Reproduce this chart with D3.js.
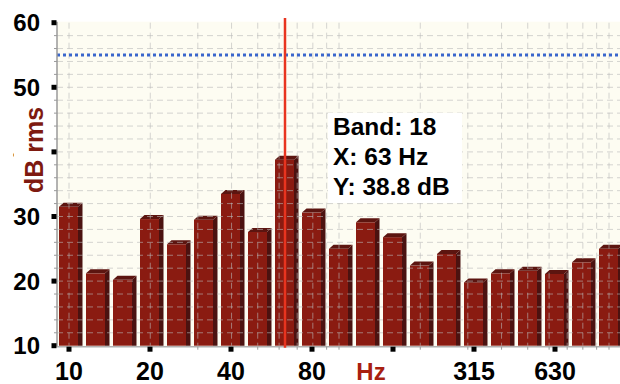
<html>
<head>
<script src="https://d3js.org/d3.v7.min.js"></script>
<style>
  body { margin: 0; background: white; }
  text { font-family: "Liberation Sans", Arial, Helvetica, sans-serif; font-weight: bold; }
</style>
</head>
<body>
<svg id="chart" width="620" height="384"></svg>
<script>
  // 1/3 octave bands, IEC band numbers 10..30 (10 Hz .. 1 kHz)
  const bands = [10,11,12,13,14,15,16,17,18,19,20,21,22,23,24,25,26,27,28,29,30];
  const levels = [31.5,21.2,20.2,29.6,25.7,29.5,33.5,27.6,38.8,30.6,25.0,29.1,26.8,22.4,24.2,19.8,21.2,21.6,21.1,22.9,25.0];
  const xTicks = [10,20,40,80,160,315,630];
  const xTickLabels = ["10","20","40","80","","315","630"];
  const yTicks = [10,20,30,40,50,60];
  const limit = 55;
  const cursorBand = 18;
  const cursorText = ["Band: 18","X: 63 Hz","Y: 38.8 dB"];

  const svg = d3.select("#chart");
  const left = 57, right = 620;

  const x = d3.scaleLog().domain([10,1000]).range([69,609]);
  const y = d3.scaleLinear().domain([10,60]).range([345.7,22.7]);
  const freq = n => Math.pow(10, n/10);

  // plot background
  svg.append("rect")
     .attr("x", left).attr("y", y(60)-1)
     .attr("width", right-left).attr("height", y(10)-y(60)+2)
     .attr("fill", "#fdfcf2");

  // bars (fake 3d)
  const bw = 19, dx = 4.5, dy = 4;
  const bars = svg.append("g").selectAll("g").data(bands).join("g");
  bars.append("rect")
      .attr("x", (d) => x(freq(d)) - 10)
      .attr("y", (d,i) => y(levels[i]))
      .attr("width", bw)
      .attr("height", (d,i) => y(10) - y(levels[i]))
      .attr("fill", "#8a1b11");
  bars.append("path")
      .attr("d", (d,i) => {
        const x0 = x(freq(d)) - 10, y0 = y(levels[i]), yb = y(10);
        return "M"+(x0+bw)+","+y0+" L"+(x0+bw+dx)+","+(y0-dy)+" L"+(x0+bw+dx)+","+yb+" L"+(x0+bw)+","+yb+"Z";
      })
      .attr("fill", "#4b1210");
  bars.append("path")
      .attr("d", (d,i) => {
        const x0 = x(freq(d)) - 10, y0 = y(levels[i]);
        return "M"+x0+","+y0+" L"+(x0+dx)+","+(y0-dy)+" L"+(x0+bw+dx)+","+(y0-dy)+" L"+(x0+bw)+","+y0+"Z";
      })
      .attr("fill", "#5c1510");

  // grid on top of bars
  const grid = svg.append("g")
     .attr("stroke", "rgba(185,185,185,0.6)")
     .attr("stroke-width", 1)
     .attr("stroke-dasharray", "6,4");
  const hLines = d3.range(12, 60, 2);
  grid.selectAll("line.h").data(hLines).join("line")
      .attr("x1", left).attr("x2", right)
      .attr("y1", d => y(d)).attr("y2", d => y(d));
  const vLines = [10,20,30,40,50,60,70,80,90,100,200,300,400,500,600,700,800,900,1000];
  grid.selectAll("line.v").data(vLines).join("line")
      .attr("x1", d => x(d)).attr("x2", d => x(d))
      .attr("y1", y(60)).attr("y2", y(10));

  // limit line
  svg.append("line")
     .attr("x1", left).attr("x2", right)
     .attr("y1", y(limit)).attr("y2", y(limit))
     .attr("stroke", "#3a66cc").attr("stroke-width", 3)
     .attr("stroke-dasharray", "3,3");

  // axes lines
  svg.append("line").attr("x1", left).attr("x2", left).attr("y1", y(60)-1).attr("y2", y(10)+1)
     .attr("stroke", "#9a9a9a").attr("stroke-width", 1.5);
  svg.append("line").attr("x1", left).attr("x2", right).attr("y1", y(10)+1).attr("y2", y(10)+1)
     .attr("stroke", "#b0b0b0").attr("stroke-width", 1.5);

  // minor ticks
  svg.append("g").selectAll("line").data(hLines).join("line")
     .attr("x1", left-3).attr("x2", left).attr("y1", d => y(d)).attr("y2", d => y(d))
     .attr("stroke", "#999");
  svg.append("g").selectAll("line").data(vLines).join("line")
     .attr("x1", d => x(d)).attr("x2", d => x(d)).attr("y1", y(10)+1).attr("y2", y(10)+4)
     .attr("stroke", "#999");

  // major ticks
  svg.append("g").selectAll("rect").data(yTicks).join("rect")
     .attr("x", left-5.5).attr("y", d => y(d)-2.5).attr("width", 5).attr("height", 5)
     .attr("fill", "black");
  svg.append("g").selectAll("rect").data(xTicks).join("rect")
     .attr("x", d => x(freq(Math.round(10*Math.log10(d))))-2.5).attr("y", y(10)+1)
     .attr("width", 5).attr("height", 5).attr("fill", "black");

  // tick labels
  svg.append("g").selectAll("text").data(yTicks).join("text")
     .attr("x", 40).attr("y", d => y(d)+8.5)
     .attr("text-anchor", "end").attr("font-size", 24)
     .text(d => d);
  svg.append("g").selectAll("text").data(xTicks).join("text")
     .attr("x", d => Math.max(58.5, x(freq(Math.round(10*Math.log10(d))))))
     .attr("y", 380)
     .attr("text-anchor", "middle").attr("font-size", 25)
     .text((d,i) => xTickLabels[i]);

  // axis titles
  svg.append("rect").attr("x", 14).attr("y", 100).attr("width", 34).attr("height", 100).attr("fill", "white");
  svg.append("text")
     .attr("transform", "translate(42.5,150) rotate(-90)")
     .attr("text-anchor", "middle").attr("font-size", 25)
     .attr("fill", "#7e1a10")
     .text("dB rms");
  svg.append("text")
     .attr("x", 371).attr("y", 380)
     .attr("text-anchor", "middle").attr("font-size", 24)
     .attr("fill", "#a81f10")
     .text("Hz");

  // cursor
  svg.append("line")
     .attr("x1", x(freq(cursorBand))).attr("x2", x(freq(cursorBand)))
     .attr("y1", 18).attr("y2", y(10)+2)
     .attr("stroke", "#e8341f").attr("stroke-width", 2.5);
  svg.append("rect").attr("x", 328).attr("y", 113).attr("width", 134).attr("height", 90).attr("fill", "white");
  svg.append("g").selectAll("text").data(cursorText).join("text")
     .attr("x", 333).attr("y", (d,i) => 135 + i*30)
     .attr("font-size", 24.5).attr("fill", "black")
     .text(d => d);
</script>
</body>
</html>
